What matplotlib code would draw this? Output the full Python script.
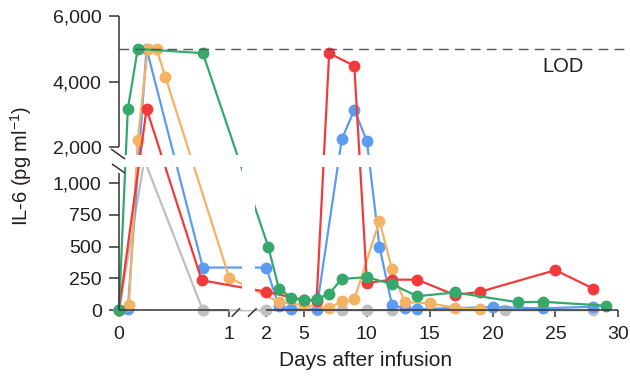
import numpy as np
import matplotlib
matplotlib.use("Agg")
import matplotlib.pyplot as plt

plt.rcParams["font.family"] = ["Liberation Sans", "DejaVu Sans"]
plt.rcParams["mathtext.fontset"] = "custom"
plt.rcParams["mathtext.rm"] = "Liberation Sans"
plt.rcParams["mathtext.default"] = "regular"

# IL-6 (pg/ml) per patient, days after infusion
gray_days = [0, 0.23, 0.76, 2, 6, 8, 10, 12, 21, 28]
gray_il6 = [0, 1640, 0, 0, 0, 0, 0, 0, 0, 0]

blue_days = [0, 0.08, 0.25, 0.76, 2, 3, 4, 6, 8, 9, 10, 11, 12, 13, 14, 20, 24, 28]
blue_il6 = [0, 10, 5000, 335, 335, 30, 8, 8, 2240, 3140, 2190, 500, 40, 15, 10, 25, 15, 28]

orange_days = [0, 0.09, 0.17, 0.26, 0.34, 0.42, 1.0, 3, 5, 7, 8, 9, 11, 12, 13, 15, 17, 19]
orange_il6 = [0, 45, 2220, 5000, 5000, 4150, 255, 65, 40, 15, 70, 85, 700, 320, 65, 55, 20, 8]

red_days = [0, 0.25, 0.75, 2, 5, 6, 7, 9, 10, 12, 14, 17, 19, 25, 28]
red_il6 = [0, 3170, 235, 145, 80, 75, 4870, 4480, 215, 240, 240, 120, 145, 315, 170]

green_days = [0, 0.08, 0.17, 0.76, 2.15, 3, 4, 5, 6, 7, 8, 10, 12, 14, 17, 22, 24, 29]
green_il6 = [0, 3170, 5000, 4870, 500, 170, 100, 80, 85, 130, 245, 260, 205, 110, 140, 63, 67, 36]

lod = 5000

x_ticks = [0, 1, 2, 5, 10, 15, 20, 25, 30]
y_ticks = [0, 250, 500, 750, 1000, 2000, 4000, 6000]
y_ticklabels = ["0", "250", "500", "750", "1,000", "2,000", "4,000", "6,000"]

# broken axes as piecewise-linear scales
x_knots = [-10, 0, 1, 2, 30, 40]
x_pos = [-1103, 0, 110.3, 147.3, 499.3, 625]
y_knots = [-1000, 0, 1000, 2000, 6000, 10000]
y_pos = [-127.6, 0, 127.6, 163.0, 294.2, 425.4]


def fwd_x(d):
    return np.interp(d, x_knots, x_pos)


def inv_x(p):
    return np.interp(p, x_pos, x_knots)


def fwd_y(v):
    return np.interp(v, y_knots, y_pos)


def inv_y(p):
    return np.interp(p, y_pos, y_knots)


fig = plt.figure(figsize=(6.3, 3.83), dpi=100)
ax = fig.add_axes([119 / 630, 72.7 / 383, 499.3 / 630, 294.2 / 383])
ax.set_xscale("function", functions=(fwd_x, inv_x))
ax.set_yscale("function", functions=(fwd_y, inv_y))
ax.set_xlim(0, 30)
ax.set_ylim(0, 6000)

series = [
    (gray_days, gray_il6, "#bfbfbf"),
    (blue_days, blue_il6, "#5b9cf0"),
    (orange_days, orange_il6, "#f4b263"),
    (red_days, red_il6, "#f23a3c"),
    (green_days, green_il6, "#35a86b"),
]
for days, vals, col in series:
    ax.plot(days, vals, color=col, lw=1.6, marker="o", ms=7.5,
            clip_on=False, zorder=3)

# blank out the break regions
ax.axhspan(1445, 1775, color="white", lw=0, zorder=4)
ax.axvspan(1.335, 1.695, color="white", lw=0, zorder=4)

ax.axhline(lod, xmin=0, xmax=1.023, color="#555555", lw=1,
           dashes=(7, 4.5), clip_on=False, zorder=5)
ax.text(24.0, 4470, "LOD", fontsize=14.5, va="center", ha="left",
        color="#231f20")

# axis lines in segments with break marks
axc = "#333333"
for s in ax.spines.values():
    s.set_visible(False)
kw = dict(color=axc, lw=1.1, clip_on=False, zorder=6, solid_capstyle="butt")
ax.plot([0, 0], [0, 1280], **kw)
ax.plot([0, 0], [2000, 6000], **kw)
ax.plot([0, 1], [0, 0], **kw)
ax.plot([2, 30], [0, 0], **kw)
ax.plot([-0.0725, 0.0544], [1952, 1669], **kw)
ax.plot([-0.0635, 0.0544], [1528, 1274], **kw)
ax.plot([1.065, 1.289], [-50, 16], **kw)
ax.plot([1.505, 1.74], [-50, 16], **kw)

ax.set_xticks(x_ticks)
ax.set_xticklabels([str(t) for t in x_ticks])
ax.set_yticks(y_ticks)
ax.set_yticklabels(y_ticklabels)
ax.minorticks_off()
ax.tick_params(axis="y", length=7.5, width=1.1, pad=5, labelsize=14,
               color=axc, labelcolor="#231f20")
ax.tick_params(axis="x", length=5, width=1.1, pad=6, labelsize=14,
               color=axc, labelcolor="#231f20")

fig.text(21 / 630, 1 - 166 / 383, "IL-6 (pg ml$^{-1}$)", rotation=90,
         ha="center", va="center", fontsize=14.5, color="#231f20")
fig.text(366 / 630, 17 / 383, "Days after infusion", ha="center",
         va="baseline", fontsize=15, color="#231f20")

fig.savefig("out.png", dpi=100)
